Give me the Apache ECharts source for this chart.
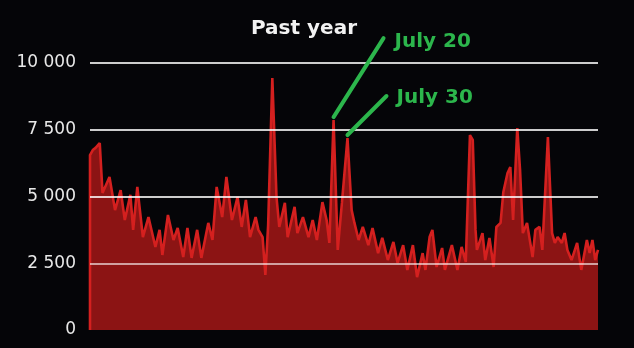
<!DOCTYPE html>
<html><head><meta charset="utf-8">
<script src="https://cdn.jsdelivr.net/npm/echarts@6/dist/echarts.min.js"></script>
<style>html,body{margin:0;padding:0;background:#050508;}#c{width:634px;height:348px;}</style>
</head><body><div id="c"></div>
<script>
// Day offsets (days since start of the past-year window) and daily visits
const days = [0,0,2,4,7,9,14,18,22,25,29,31,34,38,42,47,50,52,56,60,63,67,70,73,77,80,85,88,91,95,98,102,106,109,112,115,119,121,124,126,128,131,134,136,140,142,147,149,153,157,160,163,167,170,172,175,178,181,185,188,190,193,196,200,203,207,210,214,218,221,225,228,232,235,239,241,244,246,249,253,255,260,264,267,270,273,275,277,278,282,284,287,290,292,295,297,300,302,304,307,309,311,314,318,320,323,325,329,332,334,336,339,341,343,346,350,353,357,359,361,363,365];
const values = [0,6550,6740,6820,7000,5130,5730,4490,5240,4120,5060,3750,5360,3480,4230,3110,3750,2810,4310,3370,3820,2730,3820,2700,3750,2700,4010,3370,5360,4230,5730,4120,4980,3860,4870,3480,4230,3750,3480,2060,3930,9440,4980,3860,4760,3480,4610,3630,4230,3480,4120,3370,4790,4120,3260,7860,3000,4760,7190,4490,4010,3370,3860,3180,3820,2880,3450,2620,3300,2510,3180,2250,3180,1980,2880,2250,3480,3750,2360,3070,2250,3180,2250,3110,2550,7300,7120,3750,3000,3630,2620,3450,2360,3860,4010,5170,5880,6100,4120,7560,5990,3630,4010,2730,3750,3860,3000,7230,3630,3260,3480,3260,3630,3000,2620,3260,2250,3370,2880,3370,2620,3000];
const yTicks = [0, 2500, 5000, 7500, 10000];
const titleText = 'Past year';
const notes = [
  {label: 'July 20', day: 175, value: 7860},
  {label: 'July 30', day: 185, value: 7190}
];

const chart = echarts.init(document.getElementById('c'));
const seriesData = days.map((d, i) => [d, values[i]]);
const green = '#2cb64c';

chart.setOption({
  backgroundColor: '#050508',
  animation: false,
  title: {
    text: titleText, left: 299, top: 14, textAlign: 'center',
    textStyle: {color: '#f2f2f2', fontFamily: 'DejaVu Sans', fontWeight: 'bold', fontSize: 20}
  },
  grid: {left: 90, right: 36, top: 63, bottom: 18},
  xAxis: {type: 'value', min: 0, max: 365, show: false},
  yAxis: {
    type: 'value', min: yTicks[0], max: yTicks[yTicks.length - 1], interval: 2500, z: 5,
    axisLine: {show: false}, axisTick: {show: false},
    axisLabel: {
      color: '#e8e8e8', fontFamily: 'DejaVu Sans', fontSize: 17, margin: 14,
      formatter: v => String(v).replace(/\B(?=(\d{3})+(?!\d))/g, ' ')
    },
    splitLine: {lineStyle: {width: 2, color: ['rgba(0,0,0,0)', 'rgba(255,255,255,0.6)', 'rgba(255,255,255,0.8)', 'rgba(255,255,255,0.8)', 'rgba(255,255,255,0.8)']}}
  },
  series: [{
    type: 'line', data: seriesData, symbol: 'none', z: 2,
    lineStyle: {color: '#d4201f', width: 2.6},
    areaStyle: {color: '#8c1414', opacity: 1}
  }]
});

const offsets = [{dx: 50, dy: -79, tx: 11, ty: 4}, {dx: 39, dy: -39, tx: 10, ty: 2}];
const graphics = [];
notes.forEach((n, i) => {
  const p = chart.convertToPixel({seriesIndex: 0}, [n.day, n.value]);
  const o = offsets[i];
  const x0 = p[0], y0 = p[1] - 3;
  graphics.push({type: 'line', shape: {x1: x0, y1: y0, x2: x0 + o.dx, y2: y0 + o.dy},
    style: {stroke: green, lineWidth: 4, lineCap: 'round'}, z: 10});
  graphics.push({type: 'text', x: x0 + o.dx + o.tx, y: y0 + o.dy + o.ty,
    style: {text: n.label, fill: green, font: 'bold 20px "DejaVu Sans"', textVerticalAlign: 'middle'}, z: 10});
});
chart.setOption({graphic: graphics});
</script>
</body></html>
